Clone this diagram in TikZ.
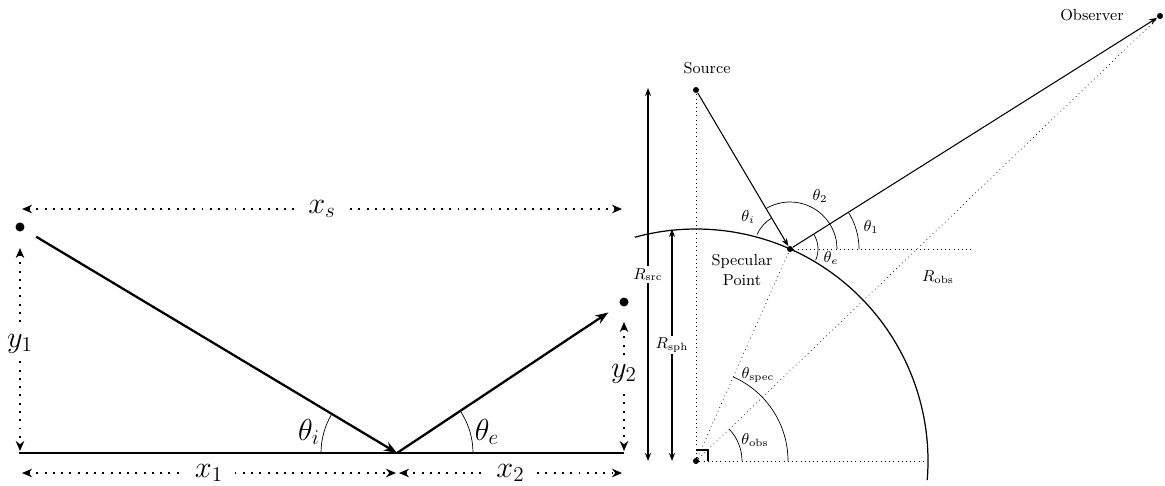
\documentclass[tikz,border=0pt]{standalone}
\usetikzlibrary{arrows.meta,calc}
\tikzset{
  >={Stealth[length=1.6mm,width=1.2mm]},
  bigdot/.style={circle, fill=black, inner sep=0pt, minimum size=1.8mm},
  smalldot/.style={circle, fill=black, inner sep=0pt, minimum size=1.2mm},
  ray/.style={-{Stealth[length=2.6mm,width=1.9mm]}, line width=1.3pt},
  ground/.style={line width=1.3pt},
  dimline/.style={{Stealth[length=2mm,width=1.7mm]}-{Stealth[length=2mm,width=1.7mm]},
              line width=1.1pt, dash pattern=on 1.1pt off 3.6pt},
  biglbl/.style={font=\LARGE, fill=white, inner xsep=6pt, inner ysep=4pt},
  thinray/.style={->, semithick},
  rdim/.style={<->, semithick},
  lbl/.style={font=\small},
  earth/.style={line width=0.7pt},
}

\begin{document}
\begin{tikzpicture}[x=0.02cm,y=0.02cm]
  \useasboundingbox (0,0) rectangle (1165,485);
  % flat reflection
  \node[bigdot] (src) at (20,258) {};
  \node[bigdot] (obs) at (624,183) {};
  \coordinate (refl) at (397,32);
  \coordinate (bl) at (19,32);
  \coordinate (br) at (624,32);
  \draw[ground] (bl) -- (br);
  \draw[ray,shorten <=0.28cm] (src) -- (refl);
  \draw[ray,shorten >=0.28cm] (refl) -- (obs);
  \draw (refl) ++(-76,0) arc[start angle=180,end angle=149,radius=76];
  \draw (refl) ++(76,0) arc[start angle=0,end angle=33.6,radius=76];
  \node[font=\LARGE] at (309,53) {$\theta_i$};
  \node[font=\LARGE] at (487,53) {$\theta_e$};
  \coordinate (xsl) at (22,276);
  \coordinate (xsr) at (622,276);
  \draw[dimline] (xsl) -- node[biglbl] {$x_s$} (xsr);
  \coordinate (y1t) at (20,237);
  \coordinate (y1b) at (20,34);
  \draw[dimline] (y1t) -- node[biglbl,pos=0.47] {$y_1$} (y1b);
  \coordinate (y2t) at (624,163);
  \coordinate (y2b) at (624,34);
  \draw[dimline] (y2t) -- node[biglbl,pos=0.4] {$y_2$} (y2b);
  \coordinate (x1l) at (22,12);
  \coordinate (x1r) at (396,12);
  \coordinate (x2l) at (399,12);
  \coordinate (x2r) at (622,12);
  \draw[dimline] (x1l) -- node[biglbl] {$x_1$} (x1r);
  \draw[dimline] (x2l) -- node[biglbl] {$x_2$} (x2r);
  % curved earth
  \node[smalldot] (ctr) at (696,24) {};
  \node[smalldot] (source) at (696,395) {};
  \node[smalldot] (spec) at (790,236) {};
  \node[smalldot] (observer) at (1160,469) {};
  \node[lbl] at (707,417) {Source};
  \node[lbl] at (1092,470) {Observer};
  \draw[earth] (ctr) ++(-4.7:232) arc[start angle=-4.7,end angle=105.3,radius=232];
  \coordinate (hz) at (927,24);
  \coordinate (hzspec) at (973,236);
  \draw[dotted] (ctr) -- (source);
  \draw[dotted] (ctr) -- (spec);
  \draw[dotted] (ctr) -- (observer);
  \draw[dotted] (ctr) -- (hz);
  \draw[dotted] (spec) -- (hzspec);
  \draw[line width=0.8pt] ($(ctr)+(0,11)$) -- ++(12,0) -- ++(0,-11);
  \draw[thinray] (source) -- (spec);
  \draw[thinray] (spec) -- (observer);
  \draw (ctr) ++(46,0) arc[start angle=0,end angle=43.8,radius=46];
  \draw (ctr) ++(92,0) arc[start angle=0,end angle=66.1,radius=92];
  \draw (spec) ++(69,0) arc[start angle=0,end angle=32.2,radius=69];
  \draw (spec) ++(47,0) arc[start angle=0,end angle=120.9,radius=47];
  \draw (spec) ++(120.9:36) arc[start angle=120.9,end angle=156.1,radius=36];
  \draw (spec) ++(-23.9:28) arc[start angle=-23.9,end angle=32.2,radius=28];
  \node[lbl] at (755,45) {$\theta_{\mathrm{obs}}$};
  \node[lbl] at (758,110) {$\theta_{\mathrm{spec}}$};
  \node[lbl] at (871,258) {$\theta_1$};
  \node[lbl] at (820,289) {$\theta_2$};
  \node[lbl] at (748,268) {$\theta_i$};
  \node[lbl] at (831,227) {$\theta_e$};
  \coordinate (rsrcb) at (648,24);
  \coordinate (rsrct) at (648,397);
  \coordinate (rsphb) at (672,24);
  \coordinate (rspht) at (672,256);
  \draw[rdim] (rsrcb) -- node[lbl,fill=white,inner sep=1pt] {$R_{\mathrm{src}}$} (rsrct);
  \draw[rdim] (rsphb) -- node[lbl,fill=white,inner sep=1pt] {$R_{\mathrm{sph}}$} (rspht);
  \node[lbl] at (938,208) {$R_{\mathrm{obs}}$};
  \node[lbl,align=center] at (742,215) {Specular\\Point};
\end{tikzpicture}
\end{document}
